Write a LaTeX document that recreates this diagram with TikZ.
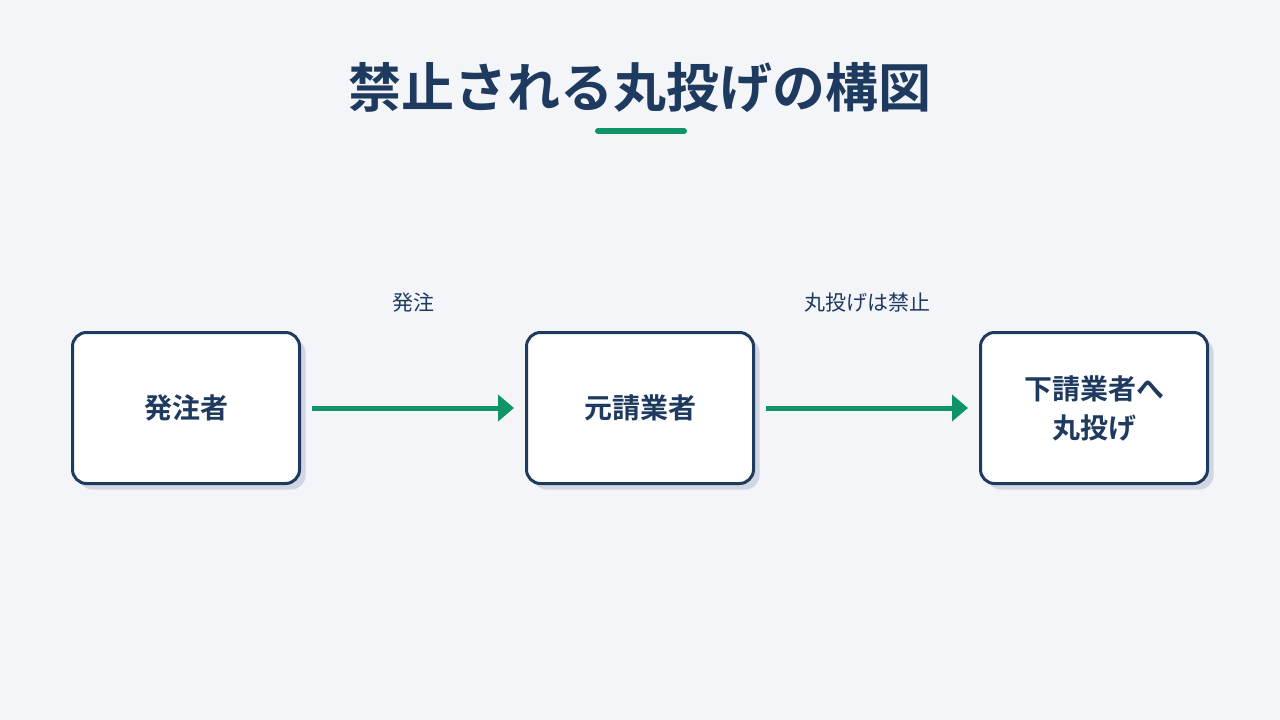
\documentclass[tikz,border=0pt]{standalone}
\usepackage{fontspec}
\setmainfont{Noto Sans CJK JP}[BoldFont={Noto Sans CJK JP Bold}]
\usetikzlibrary{arrows.meta,positioning,shadows}

\definecolor{navy}{HTML}{1F3A5F}
\definecolor{okgreen}{HTML}{0E9467}
\definecolor{bgc}{HTML}{F3F5F8}
\definecolor{shadowc}{HTML}{D0D7E2}

\begin{document}
\begin{tikzpicture}[x=1pt,y=-1pt,
  party/.style={draw=navy, line width=3pt, fill=white, rounded corners=14pt,
    minimum width=227pt, minimum height=151pt, align=center, text=navy,
    font=\fontsize{28}{39}\selectfont\bfseries,
    general shadow={fill=shadowc, shadow xshift=6pt, shadow yshift=-6pt}},
  flow/.style={draw=okgreen, line width=5pt, shorten <=11pt, shorten >=11pt,
    -{Triangle[length=16pt,width=26pt]}},
  flowlbl/.style={text=navy, font=\fontsize{21}{25}\selectfont, yshift=105pt}]
  \fill[bgc] (0,0) rectangle (1280,720);
  \useasboundingbox (0,0) rectangle (1280,720);

  \node[text=navy, font=\fontsize{53}{62}\selectfont\bfseries] (title) at (640,88) {禁止される丸投げの構図};
  \draw[okgreen, line width=6pt, line cap=round] (598,131) -- (684,131);

  \node[party] (client) at (186,408) {発注者};
  \node[party, right=224pt of client] (prime) {元請業者};
  \node[party, right=224pt of prime] (sub) {下請業者へ\\丸投げ};

  \draw[flow] (client) -- node[flowlbl] (l1) {発注} (prime);
  \draw[flow] (prime) -- node[flowlbl] (l2) {丸投げは禁止} (sub);
\end{tikzpicture}
\end{document}
